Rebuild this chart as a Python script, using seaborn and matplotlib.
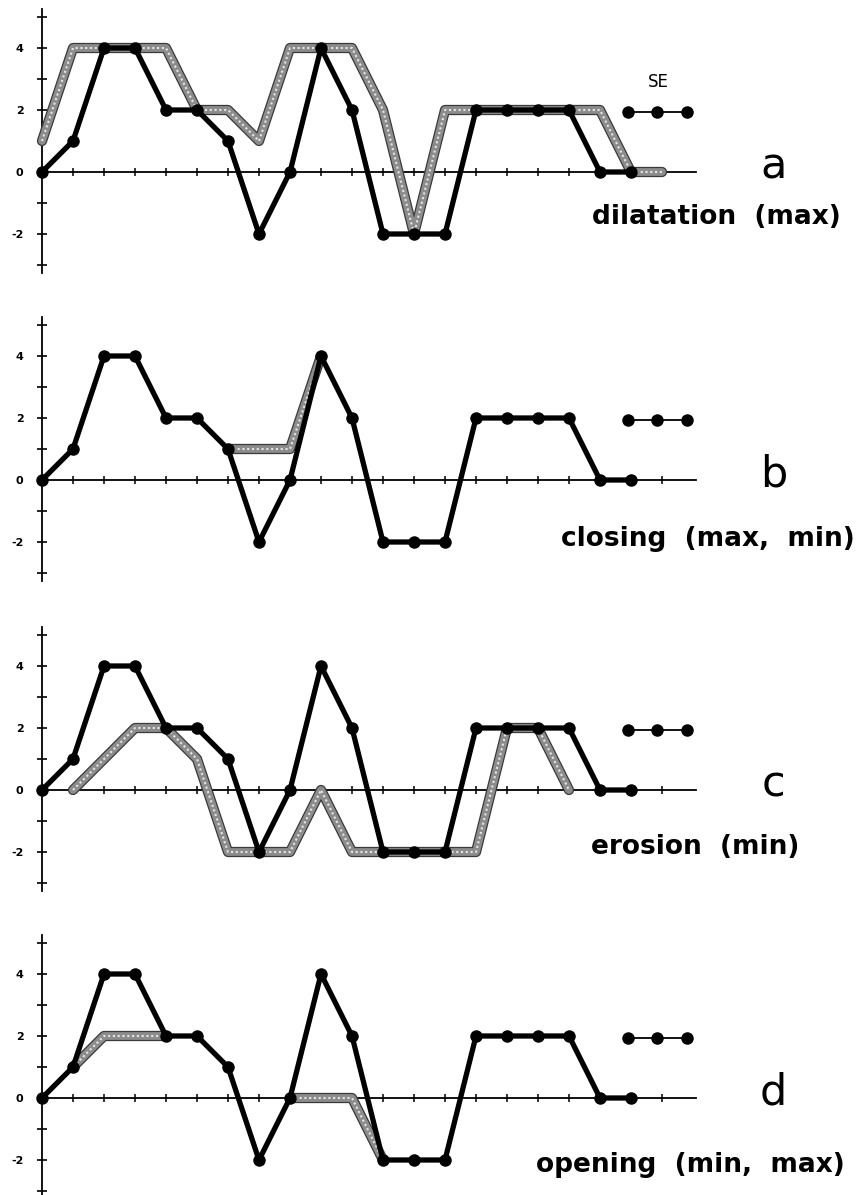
import numpy as np
import pandas as pd
import seaborn as sns
import matplotlib
matplotlib.use("Agg")
import matplotlib.pyplot as plt
import matplotlib.patheffects as pe

# ---------------- data ----------------
x_signal = list(range(20))
signal = [0, 1, 4, 4, 2, 2, 1, -2, 0, 4, 2, -2, -2, -2, 2, 2, 2, 2, 0, 0]

x_dilation = list(range(21))
dilation = [1, 4, 4, 4, 4, 2, 2, 1, 4, 4, 4, 2, -2, 2, 2, 2, 2, 2, 2, 0, 0]

x_closing = [6, 7, 8, 9]
closing = [1, 1, 1, 4]

x_erosion = list(range(1, 18))
erosion = [0, 1, 2, 2, 1, -2, -2, -2, 0, -2, -2, -2, -2, -2, 2, 2, 0]

x_opening = [1, 2, 3, 4, 8, 9, 10, 11]
opening = [1, 2, 2, 2, 0, 0, 0, -2]
opening_seg = [0, 0, 0, 0, 1, 1, 1, 1]

se_x = [18.9, 19.85, 20.8]
se_y = [1.92, 1.92, 1.92]

panel_letters = ["a", "b", "c", "d"]
panel_titles = ["dilatation  (max)", "closing  (max,  min)",
                "erosion  (min)", "opening  (min,  max)"]
y_tick_values = list(range(-3, 6))
y_tick_labels = ["", "-2", "", "0", "", "2", "", "4", ""]
x_tick_values = list(range(1, 21))

gray_series = [
    (x_dilation, dilation, [0] * len(dilation)),
    (x_closing, closing, [0] * len(closing)),
    (x_erosion, erosion, [0] * len(erosion)),
    (x_opening, opening, opening_seg),
]

# ---------------- layout ----------------
sns.set_style("white")
plt.rcParams["font.family"] = ["DejaVu Sans"]
plt.rcParams["text.color"] = "black"
plt.rcParams["ytick.color"] = "black"
plt.rcParams["xtick.color"] = "black"

W, H = 860, 1195
fig = plt.figure(figsize=(W / 100, H / 100), dpi=100)
u = 31.0            # pixels per data unit
x0_px = 42.0        # pixel position of x = 0
zeros_px = [172, 480, 790, 1098]
y_hi, y_lo = 5.5, -3.5

title_pos = [(21.74, -1.45), (21.48, -1.9), (21.06, -1.85), (20.9, -2.15)]

for i in range(4):
    z = zeros_px[i]
    top_px = z - y_hi * u
    h_px = (y_hi - y_lo) * u
    ax = fig.add_axes([0, 1 - (top_px + h_px) / H, 1, h_px / H])
    ax.set_xlim(-x0_px / u, (W - x0_px) / u)
    ax.set_ylim(y_lo, y_hi)
    ax.patch.set_alpha(0)

    # axes styling
    for s in ["top", "right"]:
        ax.spines[s].set_visible(False)
    ax.spines["left"].set_position(("data", 0))
    ax.spines["bottom"].set_position(("data", 0))
    ax.spines["left"].set_bounds(-3.25, 5.25)
    ax.spines["bottom"].set_bounds(0, 21.1)
    for s in ["left", "bottom"]:
        ax.spines[s].set_linewidth(1.3)
        ax.spines[s].set_color("black")
        ax.spines[s].set_zorder(1)
    ax.set_yticks(y_tick_values)
    ax.set_yticklabels(y_tick_labels, fontweight="bold")
    ax.set_xticks(x_tick_values)
    ax.set_xticklabels([])
    ax.tick_params(axis="y", direction="inout", length=6.5, width=1.2,
                   labelsize=8, pad=10, left=True, colors="black")
    ax.tick_params(axis="x", direction="inout", length=5.8, width=1.1,
                   bottom=True, colors="black")

    # gray (transformed) series: dark outline, mid-gray body, light dots
    gx, gy, gseg = gray_series[i]
    gdf = pd.DataFrame({"x": gx, "y": gy, "seg": gseg})
    sns.lineplot(data=gdf, x="x", y="y", units="seg", estimator=None, ax=ax,
                 color="#8c8c8c", linewidth=5.6, solid_joinstyle="round",
                 solid_capstyle="round", zorder=3,
                 path_effects=[pe.Stroke(linewidth=7.4, foreground="#3a3a3a",
                                         capstyle="round", joinstyle="round"),
                               pe.Normal()])
    sns.lineplot(data=gdf, x="x", y="y", units="seg", estimator=None, ax=ax,
                 color="#e6e6e6", linewidth=1.5, linestyle=(0, (1, 1.3)),
                 zorder=3.5)

    # black original signal
    bdf = pd.DataFrame({"x": x_signal, "y": signal})
    sns.lineplot(data=bdf, x="x", y="y", ax=ax, color="black",
                 linewidth=3.8, marker="o", markersize=9,
                 markeredgewidth=0, solid_joinstyle="round", zorder=4)

    # structuring element
    sdf = pd.DataFrame({"x": se_x, "y": se_y})
    sns.lineplot(data=sdf, x="x", y="y", ax=ax, color="black",
                 linewidth=1.3, marker="o", markersize=9,
                 markeredgewidth=0, zorder=4)
    if i == 0:
        ax.text(19.87, 2.9, "SE", fontsize=12, ha="center", va="center",
                color="black")

    ax.text(23.6, -0.2, panel_letters[i], fontsize=31, ha="center",
            va="baseline", color="black")
    tx, ty = title_pos[i]
    ax.text(tx, ty, panel_titles[i], fontsize=19, fontweight="bold",
            ha="center", va="center", color="black")
    ax.set_xlabel("")
    ax.set_ylabel("")
    if ax.get_legend() is not None:
        ax.get_legend().remove()

fig.savefig("out.png", dpi=100)
